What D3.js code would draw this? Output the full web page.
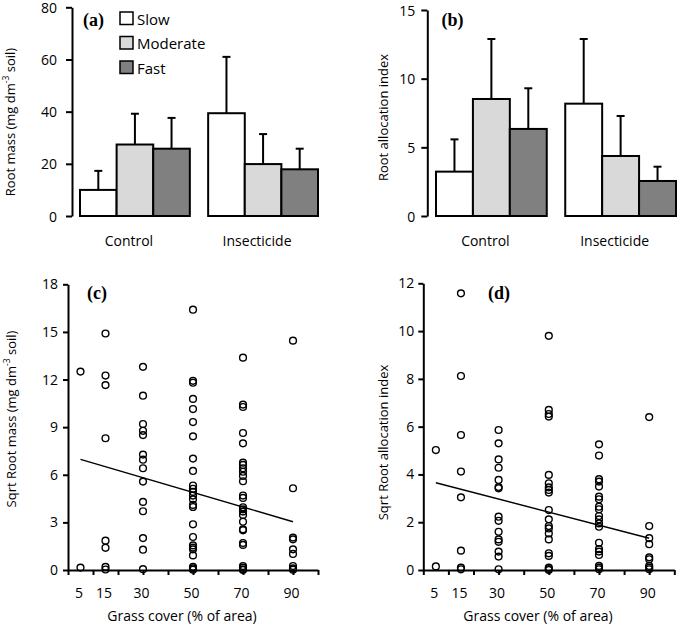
<!DOCTYPE html>
<html>
<head>
<meta charset="utf-8">
<script src="https://cdn.jsdelivr.net/npm/d3@7"></script>
<style>
  body { margin: 0; background: #fff; }
  svg { font-family: 'Open Sans', sans-serif; }
  .panel-label { font-family: 'Liberation Serif', serif; font-weight: bold; font-size: 18px; }
</style>
</head>
<body>
<div id="chart"></div>
<script>
// bar panels (a), (b)
const groups = ['Control', 'Insecticide']
const rates = ['Slow', 'Moderate', 'Fast']
const rateColors = ['#ffffff', '#d9d9d9', '#808080']
const massMean = [[10, 27.4, 25.8], [39.4, 19.9, 17.9]]
const massErr = [[7.3, 11.8, 11.8], [21.6, 11.5, 7.9]]
const allocMean = [[3.23, 8.52, 6.34], [8.18, 4.37, 2.55]]
const allocErr = [[2.35, 4.37, 2.96], [4.71, 2.91, 1.04]]
const massTicks = [0, 20, 40, 60, 80]
const allocTicks = [0, 5, 10, 15]

// scatter panels (c), (d)
const coverLevels = [5, 15, 30, 50, 70, 90]
const coverTicks = [0, 10, 20, 30, 40, 50, 60, 70, 80, 90, 100]
const sqrtMass = [
  [12.5, 0.15],
  [14.9, 12.25, 11.65, 8.3, 1.85, 1.4, 0.2, 0.03],
  [12.8, 10.98, 9.2, 8.77, 8.5, 7.27, 6.95, 6.41, 5.57, 4.29, 3.7, 2.01, 1.28, 0.05],
  [16.4, 11.92, 11.8, 10.78, 10.14, 9.32, 8.42, 7.02, 6.24, 5.32, 5.12, 4.92, 4.69, 4.45, 4.1, 3.97, 2.88, 2.08, 1.55, 1.41, 1.3, 0.92, 0.2, 0.1, 0.02],
  [13.38, 10.42, 10.27, 8.63, 7.98, 6.76, 6.62, 6.41, 6.19, 5.93, 5.59, 4.69, 4.54, 3.95, 3.82, 3.68, 3.47, 3.04, 2.56, 2.5, 1.7, 1.58, 0.25, 0.15, 0.04, 0],
  [14.45, 5.15, 2.04, 1.93, 1.3, 1.01, 0.25, 0.1, 0.02]
]
const sqrtAlloc = [
  [5.02, 0.15],
  [11.58, 8.12, 5.65, 4.12, 3.04, 0.81, 0.1, 0.03],
  [5.86, 5.3, 4.63, 4.28, 3.77, 3.47, 3.42, 2.23, 2.06, 1.6, 1.28, 1.18, 0.77, 0.56, 0.03],
  [9.8, 6.7, 6.53, 6.42, 3.98, 3.63, 3.46, 3.35, 3.24, 2.51, 2.12, 1.84, 1.74, 1.53, 1.28, 0.7, 0.59, 0.1, 0.04, 0],
  [5.26, 4.79, 3.8, 3.7, 3.49, 3.07, 2.96, 2.65, 2.54, 2.26, 2.12, 1.95, 1.81, 1.14, 0.87, 0.77, 0.63, 0.17, 0.1, 0.03],
  [6.4, 1.84, 1.33, 1.08, 0.53, 0.45, 0.17, 0.1, 0.03]
]
const massFit = [[5, 6.97], [90, 3.04]]
const allocFit = [[5, 3.65], [90, 1.33]]

const svg = d3.select('#chart')
  .append('svg')
  .attr('width', 685)
  .attr('height', 626)

function yTitle(x, y, parts) {
  const t = svg.append('text')
    .attr('transform', `translate(${x},${y}) rotate(-90)`)
    .attr('text-anchor', 'middle')
    .attr('dominant-baseline', 'central')
    .style('font-size', '13px')
  parts.forEach(p => {
    if (p.sup) {
      t.append('tspan').attr('dy', -5).style('font-size', '8.5px').text(p.sup)
      t.append('tspan').attr('dy', 5).text(p.after)
    } else {
      t.append('tspan').text(p.text)
    }
  })
}

function styleAxis(g) {
  g.select('.domain').attr('stroke', '#000').attr('stroke-width', 2)
  g.selectAll('.tick line').attr('stroke', '#000').attr('stroke-width', 2)
  g.selectAll('.tick text').attr('fill', '#000').style('font-size', '14px').style('font-family', "'Open Sans', sans-serif")
}

function barPanel(opt) {
  const y = d3.scaleLinear().domain(opt.domain).range([216, opt.yTop])
  const x0 = d3.scaleBand().domain(groups).range(opt.xRange).paddingInner(0.143)
  const x1 = d3.scaleBand().domain(rates).range([0, x0.bandwidth()])

  const ax = svg.append('g')
    .attr('transform', `translate(${opt.axisX},0)`)
    .call(d3.axisLeft(y).tickValues(opt.ticks).tickSize(6).tickSizeOuter(0).tickPadding(opt.pad))
  styleAxis(ax)
  ax.selectAll('.tick text').attr('dy', '0.36em')

  groups.forEach((grp, gi) => {
    const g = svg.append('g').attr('transform', `translate(${x0(grp)},0)`)
    rates.forEach((r, ri) => {
      const m = opt.mean[gi][ri]
      const e = opt.err[gi][ri]
      const cx = x1(r) + x1.bandwidth() / 2
      g.append('line')
        .attr('x1', cx).attr('x2', cx)
        .attr('y1', y(m)).attr('y2', y(m + e))
        .attr('stroke', '#000').attr('stroke-width', 2)
      g.append('line')
        .attr('x1', cx - 4).attr('x2', cx + 4)
        .attr('y1', y(m + e)).attr('y2', y(m + e))
        .attr('stroke', '#000').attr('stroke-width', 2)
      g.append('rect')
        .attr('x', x1(r))
        .attr('y', y(m))
        .attr('width', x1.bandwidth())
        .attr('height', y(0) - y(m))
        .attr('fill', rateColors[ri])
        .attr('stroke', '#000')
        .attr('stroke-width', 2)
    })
    svg.append('text')
      .attr('x', x0(grp) + x0.bandwidth() / 2 - 6)
      .attr('y', 246)
      .attr('text-anchor', 'middle')
      .style('font-size', '14px')
      .text(grp)
  })

  svg.append('text').attr('class', 'panel-label')
    .attr('x', opt.labelX).attr('y', 26).text(opt.label)
}

function scatterPanel(opt) {
  const x = d3.scaleLinear().domain([0, 100]).range(opt.xRange)
  const y = d3.scaleLinear().domain(opt.domain).range([570, opt.yTop])

  const ay = svg.append('g')
    .attr('transform', `translate(${opt.xRange[0]},0)`)
    .call(d3.axisLeft(y).tickValues(opt.ticks).tickSize(5).tickSizeOuter(0).tickPadding(opt.pad))
  styleAxis(ay)

  const axb = svg.append('g')
    .attr('transform', 'translate(0,570)')
    .call(d3.axisBottom(x).tickValues(coverTicks).tickSize(5).tickSizeOuter(0).tickFormat(''))
  styleAxis(axb)

  svg.selectAll(null)
    .data(coverLevels)
    .enter()
    .append('text')
    .attr('x', d => x(d) - 1.5)
    .attr('y', 598)
    .attr('text-anchor', 'middle')
    .style('font-size', '14px')
    .text(d => d)

  svg.append('text')
    .attr('x', opt.titleX)
    .attr('y', 621)
    .attr('text-anchor', 'middle')
    .style('font-size', '14px')
    .text('Grass cover (% of area)')

  const pts = []
  coverLevels.forEach((c, i) => opt.values[i].forEach(v => pts.push([c, v])))
  svg.append('g').selectAll('circle')
    .data(pts)
    .enter()
    .append('circle')
    .attr('cx', d => x(d[0]))
    .attr('cy', d => y(d[1]))
    .attr('r', 3.4)
    .attr('fill', 'none')
    .attr('stroke', '#000')
    .attr('stroke-width', 1.4)

  svg.append('path')
    .datum(opt.fit)
    .attr('d', d3.line().x(d => x(d[0])).y(d => y(d[1])))
    .attr('fill', 'none')
    .attr('stroke', '#000')
    .attr('stroke-width', 1.4)

  svg.append('text').attr('class', 'panel-label')
    .attr('x', opt.labelX).attr('y', 299).text(opt.label)
}

barPanel({ mean: massMean, err: massErr, domain: [0, 80], ticks: massTicks, yTop: 7.3,
  axisX: 72, xRange: [80, 318], pad: 9, label: '(a)', labelX: 83 })
barPanel({ mean: allocMean, err: allocErr, domain: [0, 15], ticks: allocTicks, yTop: 10,
  axisX: 427.3, xRange: [436, 676], pad: 6, label: '(b)', labelX: 441.5 })

scatterPanel({ values: sqrtMass, fit: massFit, domain: [0, 18], ticks: [0, 3, 6, 9, 12, 15, 18],
  yTop: 284.3, xRange: [68, 318], pad: 5, label: '(c)', labelX: 87, titleX: 182 })
scatterPanel({ values: sqrtAlloc, fit: allocFit, domain: [0, 12], ticks: [0, 2, 4, 6, 8, 10, 12],
  yTop: 283.3, xRange: [423.3, 674.3], pad: 4, label: '(d)', labelX: 488, titleX: 538 })

// legend
rates.forEach((r, i) => {
  svg.append('rect')
    .attr('x', 120).attr('y', 12 + i * 24.5)
    .attr('width', 13).attr('height', 12.5)
    .attr('fill', rateColors[i])
    .attr('stroke', '#000').attr('stroke-width', 1.5)
  svg.append('text')
    .attr('x', 137).attr('y', 18.5 + i * 24.5)
    .attr('dominant-baseline', 'central')
    .style('font-size', '15px')
    .text(r)
})

yTitle(10, 122, [{ text: 'Root mass (mg dm' }, { sup: '-3', after: ' soil)' }])
yTitle(383, 117.5, [{ text: 'Root allocation index' }])
yTitle(11, 419, [{ text: 'Sqrt Root mass (mg dm' }, { sup: '-3', after: ' soil)' }])
yTitle(383, 442.5, [{ text: 'Sqrt Root allocation index' }])
</script>
</body>
</html>
